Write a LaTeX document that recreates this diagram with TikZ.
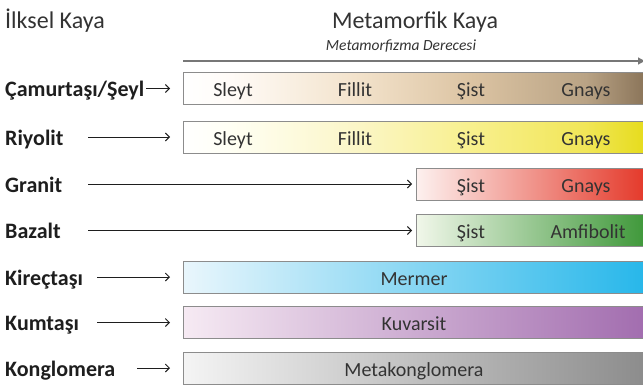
\documentclass[tikz,border=0pt]{standalone}
\usepackage{fontspec}
\setmainfont{Carlito}
\usetikzlibrary{arrows.meta}

\definecolor{txt}{HTML}{333333}
\definecolor{lbl}{HTML}{1E1E1E}
\definecolor{edge}{HTML}{8C8C8C}
\definecolor{axisgray}{HTML}{777777}
\definecolor{redR}{HTML}{E4392A}
\definecolor{redL}{HTML}{FDF1EF}
\definecolor{greenR}{HTML}{3F983A}
\definecolor{greenL}{HTML}{F1F7EA}
\definecolor{cyanR}{HTML}{27B7EA}
\definecolor{cyanL}{HTML}{E9F6FC}
\definecolor{purpleR}{HTML}{A26DAF}
\definecolor{purpleL}{HTML}{F6EAF3}
\definecolor{grayR}{HTML}{8C8C8C}
\definecolor{grayL}{HTML}{F4F4F4}

% multi-stop gradients (the 25bp--75bp band spans the bar)
\pgfdeclarehorizontalshading{brownbar}{100bp}{
  color(0bp)=(white); color(25bp)=(white); color(30bp)=(white!97!orange);
  color(43.5bp)=(rgb,255:red,243;green,227;blue,204);
  color(56bp)=(rgb,255:red,220;green,196;blue,163);
  color(68.5bp)=(rgb,255:red,185;green,163;blue,133);
  color(75bp)=(rgb,255:red,138;green,116;blue,89);
  color(100bp)=(rgb,255:red,138;green,116;blue,89)}
\pgfdeclarehorizontalshading{yellowbar}{100bp}{
  color(0bp)=(white); color(25bp)=(white); color(30bp)=(rgb,255:red,255;green,255;blue,244);
  color(43.5bp)=(rgb,255:red,251;green,246;blue,200);
  color(56bp)=(rgb,255:red,248;green,240;blue,142);
  color(68.5bp)=(rgb,255:red,241;green,230;blue,88);
  color(75bp)=(rgb,255:red,230;green,220;blue,28);
  color(100bp)=(rgb,255:red,230;green,220;blue,28)}

\tikzset{
  bar/.style={draw=edge, line width=0.9pt, rectangle, anchor=west,
    minimum height=32pt, inner sep=0pt},
  rocklabel/.style={anchor=base west, inner sep=0pt, text=lbl,
    font=\fontsize{22}{26}\selectfont\bfseries},
  bartext/.style={anchor=base, inner sep=0pt, text=txt,
    font=\fontsize{20}{24}\selectfont},
  feed/.style={draw=lbl, line width=0.9pt,
    -{Straight Barb[length=4pt,width=8pt]}},
}

\begin{document}
\begin{tikzpicture}[x=1pt,y=-1pt]
\useasboundingbox (0,0) rectangle (643,388);

% headings
\node[anchor=base west, inner sep=0pt, text=txt,
  font=\fontsize{24}{28}\selectfont] (hsrc) at (5,28) {İlksel Kaya};
\node[anchor=base, inner sep=0pt, text=txt,
  font=\fontsize{24}{28}\selectfont] (hmeta) at (415,28) {Metamorfik Kaya};
\node[anchor=base, inner sep=0pt, text=txt,
  font=\fontsize{15.5}{18}\selectfont\itshape] (hgrade) at (401,50) {Metamorfizma Derecesi};

% grade axis
\coordinate (ax0) at (183,61);
\coordinate (ax1) at (646,61);
\draw[axisgray, line width=2.2pt, -{Latex[length=8pt,width=8pt]}] (ax0) -- (ax1);

% bars
\node[bar, minimum width=462pt, shading=brownbar] (b1) at (183,88.5) {};
\node[bar, minimum width=462pt, shading=yellowbar] (b2) at (183,137) {};
\node[bar, minimum width=229pt, left color=redL, right color=redR] (b3) at (416,184) {};
\node[bar, minimum width=229pt, left color=greenL, right color=greenR] (b4) at (416,230.5) {};
\node[bar, minimum width=462pt, left color=cyanL, right color=cyanR] (b5) at (183,277) {};
\node[bar, minimum width=462pt, left color=purpleL, right color=purpleR] (b6) at (183,322.5) {};
\node[bar, minimum width=462pt, left color=grayL, right color=grayR] (b7) at (183,368) {};

% texts inside bars
\node[bartext] (s1a) at (233,96.5) {Sleyt};
\node[bartext] (s1b) at (355,96.5) {Fillit};
\node[bartext] (s1c) at (471,96.5) {Şist};
\node[bartext] (s1d) at (586,96.5) {Gnays};
\node[bartext] (s2a) at (233,145) {Sleyt};
\node[bartext] (s2b) at (355,145) {Fillit};
\node[bartext] (s2c) at (471,145) {Şist};
\node[bartext] (s2d) at (586,145) {Gnays};
\node[bartext] (s3a) at (471,192) {Şist};
\node[bartext] (s3b) at (586,192) {Gnays};
\node[bartext] (s4a) at (471,238.5) {Şist};
\node[bartext] (s4b) at (588,238.5) {Amfibolit};
\node[bartext] (s5) at (414,285) {Mermer};
\node[bartext] (s6) at (414,330.5) {Kuvarsit};
\node[bartext] (s7) at (414,376) {Metakonglomera};

% parent rocks
\node[rocklabel] (r1) at (5,96.5) {Çamurtaşı/Şeyl};
\node[rocklabel] (r2) at (5,145) {Riyolit};
\node[rocklabel] (r3) at (5,192) {Granit};
\node[rocklabel] (r4) at (5,238.5) {Bazalt};
\node[rocklabel] (r5) at (5,285) {Kireçtaşı};
\node[rocklabel] (r6) at (5,330.5) {Kumtaşı};
\node[rocklabel] (r7) at (5,376) {Konglomera};

% arrow starts
\coordinate (a1) at (146,88.5);
\coordinate (a2) at (88,137);
\coordinate (a3) at (88,184);
\coordinate (a4) at (88,230.5);
\coordinate (a5) at (97,277);
\coordinate (a6) at (97,322.5);
\coordinate (a7) at (137,368);

\draw[feed, shorten >=13pt] (a1) -- (b1.west);
\draw[feed, shorten >=13pt] (a2) -- (b2.west);
\draw[feed, shorten >=4pt] (a3) -- (b3.west);
\draw[feed, shorten >=4pt] (a4) -- (b4.west);
\draw[feed, shorten >=13pt] (a5) -- (b5.west);
\draw[feed, shorten >=13pt] (a6) -- (b6.west);
\draw[feed, shorten >=13pt] (a7) -- (b7.west);
\end{tikzpicture}
\end{document}
